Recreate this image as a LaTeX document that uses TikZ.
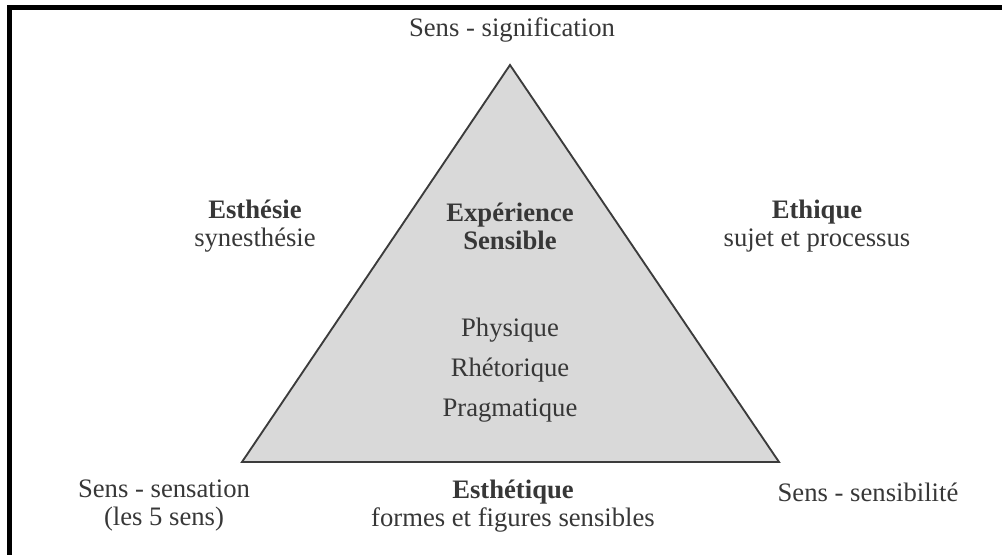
\documentclass[tikz,border=0pt]{standalone}
\usepackage{fontspec}
\setmainfont{Liberation Serif}
\usepackage{xcolor}
\usetikzlibrary{positioning, calc}
\definecolor{TextGray}{RGB}{55,55,55}
\definecolor{EdgeGray}{RGB}{60,60,60}
\definecolor{FaceGray}{RGB}{217,217,217}
\tikzset{
    lbl/.style={
        font=\fontsize{20}{21}\selectfont, text=TextGray, align=center, inner sep=0pt
    },
    lblbold/.style={
        lbl, font=\fontsize{20}{21}\selectfont\bfseries
    },
    face/.style={
        draw=EdgeGray, fill=FaceGray, line width=1.4pt, line join=miter
    },
    frameline/.style={
        line width=3.75pt, black
    }
}

\begin{document}
\begin{tikzpicture}[x=0.75pt, y=0.75pt]
    \useasboundingbox (0,0) rectangle (1003,555);
    % --- frame (top and left only) ---
    \coordinate (fl) at (9.5,0);
    \coordinate (ftl) at (9.5,547.5);
    \coordinate (ftr) at (1002,547.5);
    \draw[frameline] (fl) -- (9.5,550) (7,547.5) -- (ftr);

    % --- triangle ---
    \coordinate (apex) at (510,490);
    \coordinate (bl) at (242,93);
    \coordinate (br) at (779,93);
    \draw[face] (apex) -- (bl) -- (br) -- cycle;

    % --- corners ---
    \node[lbl] (signif) at (512,525) {Sens - signification};
    \node[lbl] (sensation) at (164,49) {Sens - sensation\\(les 5 sens)};
    \node[lbl] (sensib) at (868,63) {Sens - sensibilité};

    % --- sides ---
    \node[lbl] (esthesie) at (255,329) {\textbf{Esthésie}\\synesthésie};
    \node[lbl] (ethique) at (817,329) {\textbf{Ethique}\\sujet et processus};
    \node[lbl] (esthetique) at (513,49) {\textbf{Esthétique}\\formes et figures sensibles};

    % --- inside ---
    \node[lblbold] (experience) at (510,329) {Expérience\\Sensible};
    \node[lbl] (physique) at (510,225) {Physique};
    \node[lbl, below=30pt of physique.base, anchor=base] (rhetorique) {Rhétorique};
    \node[lbl, below=30pt of rhetorique.base, anchor=base] (pragma) {Pragmatique};
\end{tikzpicture}
\end{document}
